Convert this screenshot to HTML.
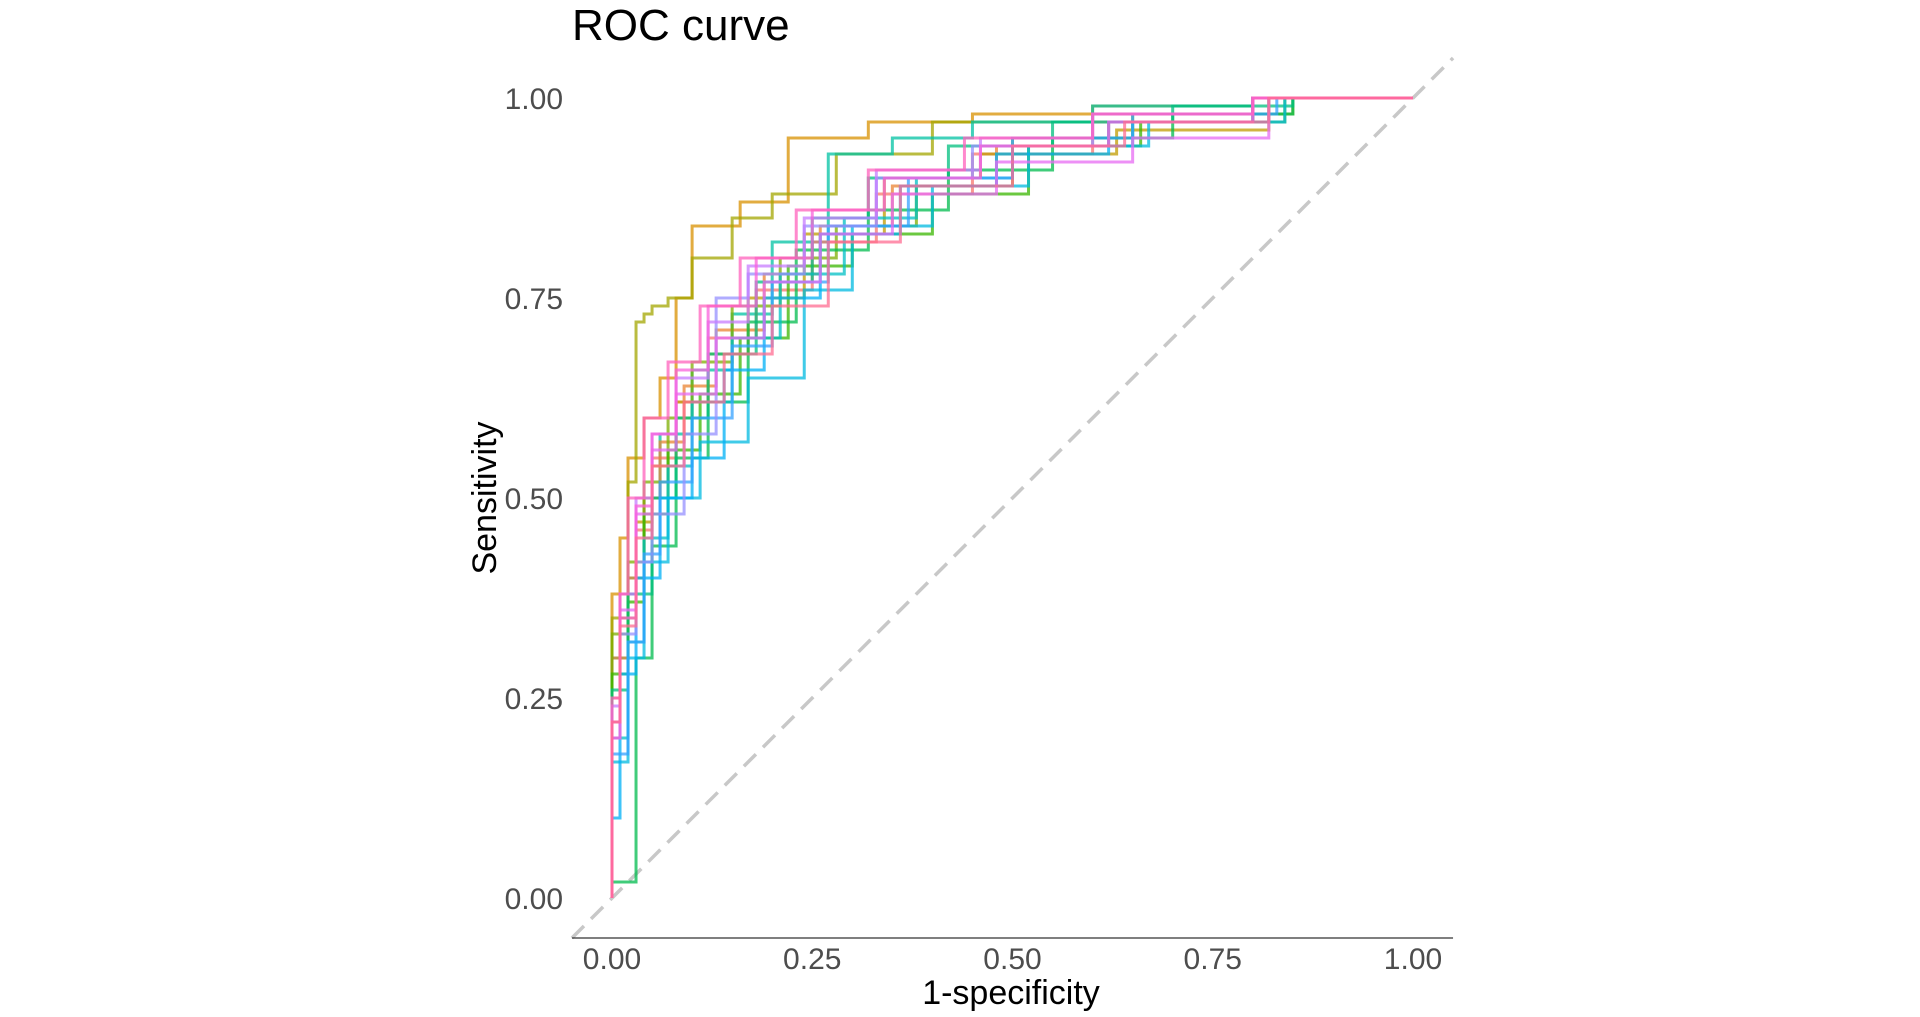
<!DOCTYPE html>
<html><head><meta charset="utf-8"><style>
html,body{margin:0;padding:0;background:#fff;}
svg{display:block;font-family:"Liberation Sans",Arial,sans-serif;}
</style></head><body>
<svg id="chart" width="1920" height="1017" viewBox="0 0 1920 1017">
<text x="572" y="40" font-size="44" fill="#000">ROC curve</text>
<g id="plot"></g>
<g id="axes"></g>
</svg>
<script>
const xTicks=[0,0.25,0.5,0.75,1];
const yTicks=[0,0.25,0.5,0.75,1];
const tickLabels=["0.00","0.25","0.50","0.75","1.00"];
const colors=["#D89000","#A3A500","#00C1A3","#F8766D","#EA8331","#C09B00","#7CAE00","#39B600","#00BB4E","#00BF7D","#00BFC4","#00BAE0","#00B0F6","#35A2FF","#9590FF","#C77CFF","#E76BF3","#FA62DB","#FF62BC","#FF6C91"];
const fpr1=[0,0.01,0.02,0.04,0.06,0.08,0.1,0.16,0.22,0.32,0.45,0.6,0.8,1];
const tpr1=[0,0.38,0.45,0.55,0.6,0.65,0.75,0.84,0.87,0.95,0.97,0.98,0.99,1];
const fpr2=[0,0.02,0.03,0.04,0.05,0.07,0.1,0.15,0.2,0.28,0.4,0.6,0.8,1];
const tpr2=[0,0.35,0.52,0.72,0.73,0.74,0.75,0.8,0.85,0.88,0.93,0.97,0.98,1];
const fpr3=[0,0.02,0.04,0.06,0.1,0.15,0.2,0.27,0.35,0.45,0.6,0.8,1];
const tpr3=[0,0.3,0.4,0.5,0.58,0.66,0.73,0.82,0.93,0.95,0.97,0.99,1];
const fpr4=[0,0.01,0.03,0.05,0.08,0.12,0.18,0.25,0.33,0.45,0.6,0.8,1];
const tpr4=[0,0.25,0.38,0.46,0.55,0.62,0.7,0.76,0.82,0.88,0.93,0.97,1];
const fpr5=[0,0.02,0.04,0.06,0.09,0.13,0.19,0.26,0.35,0.48,0.62,0.8,1];
const tpr5=[0,0.3,0.4,0.5,0.57,0.64,0.71,0.78,0.84,0.89,0.94,0.97,1];
const fpr6=[0,0.01,0.03,0.05,0.08,0.12,0.17,0.24,0.34,0.46,0.63,0.82,1];
const tpr6=[0,0.22,0.35,0.47,0.54,0.62,0.68,0.75,0.83,0.9,0.93,0.96,1];
const fpr7=[0,0.02,0.04,0.07,0.1,0.15,0.21,0.28,0.38,0.5,0.65,0.85,1];
const tpr7=[0,0.33,0.42,0.52,0.6,0.67,0.74,0.8,0.84,0.89,0.95,0.98,1];
const fpr8=[0,0.02,0.04,0.07,0.11,0.16,0.22,0.3,0.4,0.52,0.66,0.84,1];
const tpr8=[0,0.28,0.37,0.48,0.56,0.63,0.7,0.79,0.83,0.88,0.94,0.97,1];
const fpr9=[0,0.03,0.05,0.08,0.12,0.17,0.23,0.32,0.42,0.55,0.7,0.85,1];
const tpr9=[0,0.02,0.3,0.44,0.55,0.62,0.72,0.81,0.86,0.91,0.95,0.98,1];
const fpr10=[0,0.02,0.05,0.08,0.12,0.18,0.25,0.32,0.42,0.55,0.7,0.85,1];
const tpr10=[0,0.26,0.38,0.5,0.6,0.68,0.77,0.85,0.9,0.94,0.97,0.99,1];
const fpr11=[0,0.02,0.04,0.07,0.1,0.15,0.21,0.29,0.38,0.5,0.65,0.82,1];
const tpr11=[0,0.2,0.32,0.45,0.54,0.62,0.7,0.78,0.85,0.9,0.94,0.97,1];
const fpr12=[0,0.02,0.04,0.07,0.11,0.17,0.24,0.3,0.4,0.52,0.67,0.84,1];
const tpr12=[0,0.17,0.3,0.42,0.5,0.57,0.65,0.76,0.84,0.89,0.94,0.97,1];
const fpr13=[0,0.01,0.03,0.06,0.1,0.14,0.19,0.26,0.36,0.48,0.62,0.8,1];
const tpr13=[0,0.1,0.28,0.4,0.5,0.55,0.66,0.75,0.83,0.89,0.93,0.97,1];
const fpr14=[0,0.02,0.04,0.06,0.1,0.15,0.2,0.27,0.37,0.5,0.65,0.83,1];
const tpr14=[0,0.18,0.32,0.43,0.52,0.6,0.69,0.77,0.84,0.9,0.95,0.98,1];
const fpr15=[0,0.01,0.03,0.05,0.09,0.13,0.17,0.24,0.33,0.45,0.6,0.8,1];
const tpr15=[0,0.2,0.33,0.42,0.48,0.58,0.75,0.78,0.84,0.9,0.94,0.98,1];
const fpr16=[0,0.01,0.03,0.05,0.08,0.12,0.17,0.24,0.33,0.46,0.6,0.8,1];
const tpr16=[0,0.24,0.38,0.5,0.58,0.65,0.72,0.79,0.85,0.91,0.95,0.98,1];
const fpr17=[0,0.01,0.03,0.05,0.08,0.13,0.19,0.26,0.35,0.48,0.65,0.82,1];
const tpr17=[0,0.22,0.36,0.48,0.56,0.63,0.7,0.77,0.83,0.88,0.92,0.95,1];
const fpr18=[0,0.01,0.03,0.05,0.08,0.12,0.18,0.25,0.34,0.46,0.62,0.8,1];
const tpr18=[0,0.2,0.35,0.49,0.58,0.66,0.74,0.8,0.86,0.9,0.94,0.97,1];
const fpr19=[0,0.01,0.02,0.04,0.07,0.11,0.16,0.23,0.32,0.44,0.6,0.8,1];
const tpr19=[0,0.25,0.38,0.5,0.6,0.67,0.74,0.8,0.86,0.91,0.95,0.98,1];
const fpr20=[0,0.01,0.03,0.05,0.09,0.14,0.2,0.27,0.36,0.5,0.64,0.82,1];
const tpr20=[0,0.22,0.34,0.45,0.54,0.62,0.68,0.74,0.82,0.89,0.94,0.97,1];
const fprs=[fpr1,fpr2,fpr3,fpr4,fpr5,fpr6,fpr7,fpr8,fpr9,fpr10,fpr11,fpr12,fpr13,fpr14,fpr15,fpr16,fpr17,fpr18,fpr19,fpr20];
const tprs=[tpr1,tpr2,tpr3,tpr4,tpr5,tpr6,tpr7,tpr8,tpr9,tpr10,tpr11,tpr12,tpr13,tpr14,tpr15,tpr16,tpr17,tpr18,tpr19,tpr20];

const NS="http://www.w3.org/2000/svg";
function sx(v){return 612+v*801;}
function sy(v){return 898-v*800;}
const plot=document.getElementById('plot'), axes=document.getElementById('axes');

const diag=document.createElementNS(NS,'line');
diag.setAttribute('x1',sx(-0.05));diag.setAttribute('y1',sy(-0.05));
diag.setAttribute('x2',sx(1.05));diag.setAttribute('y2',sy(1.05));
diag.setAttribute('stroke','#c8c8c8');diag.setAttribute('stroke-width','3.5');diag.setAttribute('stroke-dasharray','17 10');


plot.appendChild(diag);

for(let i=0;i<fprs.length;i++){
  const f=fprs[i],t=tprs[i];
  let d='M'+sx(f[0])+','+sy(t[0]);
  for(let k=1;k<f.length;k++){ d+=' V'+sy(t[k])+' H'+sx(f[k]); }
  const p=document.createElementNS(NS,'path');
  p.setAttribute('d',d);p.setAttribute('fill','none');
  p.setAttribute('stroke',colors[i%colors.length]);p.setAttribute('stroke-width','3');p.setAttribute('stroke-opacity','0.75');
  
  
  plot.appendChild(p);
}

const ax=document.createElementNS(NS,'line');
ax.setAttribute('x1',sx(-0.05));ax.setAttribute('x2',sx(1.05));ax.setAttribute('y1',938);ax.setAttribute('y2',938);
ax.setAttribute('stroke','#333');ax.setAttribute('stroke-width','1.3');


axes.appendChild(ax);

xTicks.forEach((v,i)=>{
  const t=document.createElementNS(NS,'text');
  t.setAttribute('x',sx(v));t.setAttribute('y',969);t.setAttribute('text-anchor','middle');
  t.setAttribute('font-size','30');t.setAttribute('fill','#4d4d4d');t.textContent=tickLabels[i];
  
  
  axes.appendChild(t);
});
yTicks.forEach((v,i)=>{
  const t=document.createElementNS(NS,'text');
  t.setAttribute('x',563);t.setAttribute('y',sy(v)+11);t.setAttribute('text-anchor','end');
  t.setAttribute('font-size','30');t.setAttribute('fill','#4d4d4d');t.textContent=tickLabels[i];
  
  
  axes.appendChild(t);
});
const xt=document.createElementNS(NS,'text');
xt.setAttribute('x',1011);xt.setAttribute('y',1004);xt.setAttribute('text-anchor','middle');
xt.setAttribute('font-size','34');xt.setAttribute('fill','#000');xt.textContent='1-specificity';


axes.appendChild(xt);
const yt=document.createElementNS(NS,'text');
yt.setAttribute('transform','translate(496,498) rotate(-90)');yt.setAttribute('text-anchor','middle');
yt.setAttribute('font-size','34');yt.setAttribute('fill','#000');yt.textContent='Sensitivity';


axes.appendChild(yt);
</script>
</body></html>
